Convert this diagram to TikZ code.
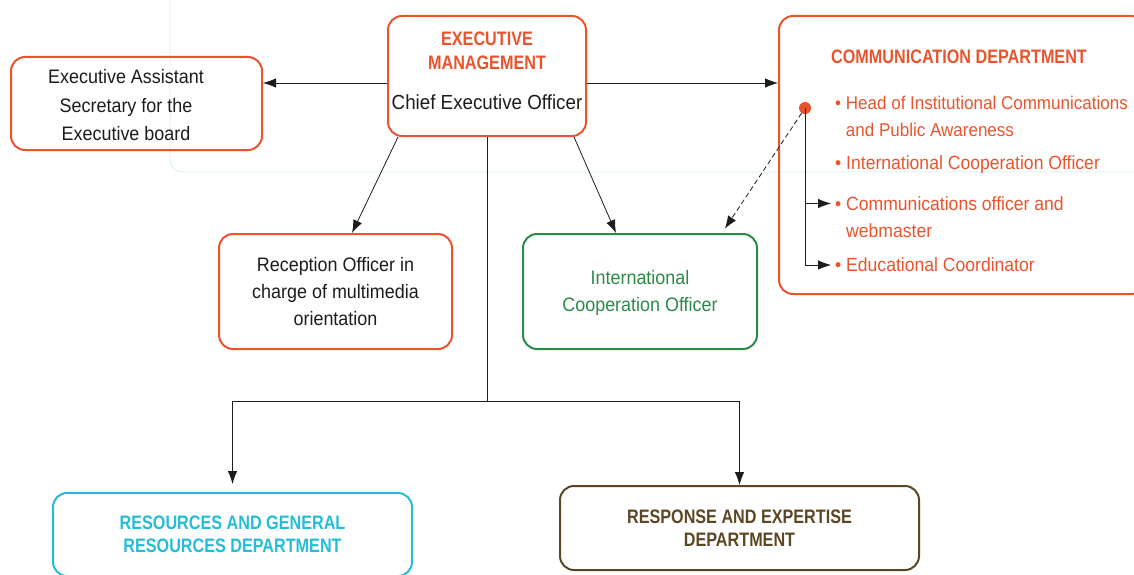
\documentclass[tikz,border=0pt]{standalone}
\usepackage{fontspec}
\setmainfont{Liberation Sans}[UprightFeatures={FakeStretch=0.92},BoldFeatures={FakeStretch=0.83}]
\usetikzlibrary{arrows.meta,calc}
\definecolor{mgmtorange}{HTML}{EA532C}
\definecolor{coopgreen}{HTML}{2B8A47}
\definecolor{rescyan}{HTML}{25BCD5}
\definecolor{respbrown}{HTML}{5C4623}
\definecolor{guideblue}{HTML}{D3EDF1}
\definecolor{inkgray}{HTML}{1C1C1C}
\newcommand{\chartfont}{\fontsize{19.5}{27}\selectfont}
\tikzset{
  unit/.style={draw=mgmtorange, line width=2pt, rounded corners=14pt, align=center,
    inner sep=0pt, text=inkgray, font=\chartfont},
  item/.style={anchor=west, align=left, inner sep=0pt, text=mgmtorange, font=\fontsize{19.1}{27}\selectfont},
  link/.style={draw=inkgray, line width=0.8pt, -{Latex[length=13pt,width=9.5pt]}},
}

\begin{document}
\begin{tikzpicture}[x=1pt,y=-1pt]
  \useasboundingbox (0,0) rectangle (1134,575);
  \draw[guideblue, line width=0.8pt, rounded corners=12pt] (170,0) -- (170,172) -- (1140,172);

  \node[unit, minimum width=251pt, minimum height=93pt,
    label={[align=center, text=inkgray, font=\chartfont, xshift=-10.5pt, yshift=-2pt]center:Executive Assistant\\[1.5pt]Secretary for the\\[1.5pt]Executive board}]
    (assist) at (136.5,103.5) {};
  \node[unit, minimum width=198pt, minimum height=120pt, text depth=11pt] (mgmt) at (487,76)
    {\textcolor{mgmtorange}{\bfseries EXECUTIVE}\\[-3pt]\textcolor{mgmtorange}{\bfseries MANAGEMENT}\\[13pt]{\fontsize{20.4}{27}\selectfont Chief Executive Officer}};
  \node[unit, minimum width=366pt, minimum height=278pt] (comm) at (962,155) {};
  \node[item, font=\chartfont\bfseries] (commtitle) at (831,56.5) {COMMUNICATION DEPARTMENT};
  \node[item, font=\fontsize{18.5}{27}\selectfont] (head) at (835,116.5) {\textbullet\ Head of Institutional Communications\\\hphantom{\textbullet\ }and Public Awareness};
  \node[item] (intlitem) at (835,165) {\textbullet\ International Cooperation Officer};
  \node[item] (webitem) at (835,217) {\textbullet\ Communications officer and\\\hphantom{\textbullet\ }webmaster};
  \node[item] (educ) at (835,265) {\textbullet\ Educational Coordinator};
  \node[circle, fill=mgmtorange, inner sep=0pt, minimum size=12pt] (hub) at (805,108) {};

  \node[unit, minimum width=233pt, minimum height=115pt] (recep) at (335.5,291.5)
    {Reception Officer in\\charge of multimedia\\orientation};
  \node[unit, draw=coopgreen, text=coopgreen, minimum width=234pt, minimum height=115pt, text depth=1pt] (coop) at (640,291.5)
    {International\\Cooperation Officer};
  \node[unit, draw=rescyan, text=rescyan, font=\chartfont\bfseries, minimum width=359pt, minimum height=83pt] (res) at (232.5,534.5)
    {RESOURCES AND GENERAL\\[-4pt]RESOURCES DEPARTMENT};
  \node[unit, draw=respbrown, text=respbrown, font=\chartfont\bfseries, minimum width=359pt, minimum height=84pt] (resp) at (739.5,528)
    {RESPONSE AND EXPERTISE\\[-4pt]DEPARTMENT};

  \draw[link] ([yshift=-7pt]mgmt.west) -- ([yshift=-7pt]mgmt.west -| assist.east);
  \draw[link] ([yshift=-7pt]mgmt.east) -- ([yshift=-7pt]mgmt.east -| comm.west);
  \draw[link] ([xshift=-89pt]mgmt.south) -- ([xshift=16.5pt]recep.north);
  \draw[link] ([xshift=87pt]mgmt.south) -- ([xshift=-24pt]coop.north);
  \draw[link] (hub.center) |- ([xshift=-4pt,yshift=13.5pt]webitem.west);
  \draw[link] (hub.center) |- ([xshift=-4pt]educ.west);
  \draw[link, dash pattern=on 5pt off 3pt, shorten >=5pt] (hub) -- ([xshift=82pt]coop.north);

  \coordinate (split) at ([yshift=-264pt]mgmt.south);
  \draw[inkgray, line width=0.8pt] (mgmt.south) -- (split);
  \draw[inkgray, line width=0.8pt] (split -| res.north) -- (split -| resp.north);
  \draw[link, shorten >=8pt] (split -| res.north) -- (res.north);
  \draw[link] (split -| resp.north) -- (resp.north);
\end{tikzpicture}
\end{document}
